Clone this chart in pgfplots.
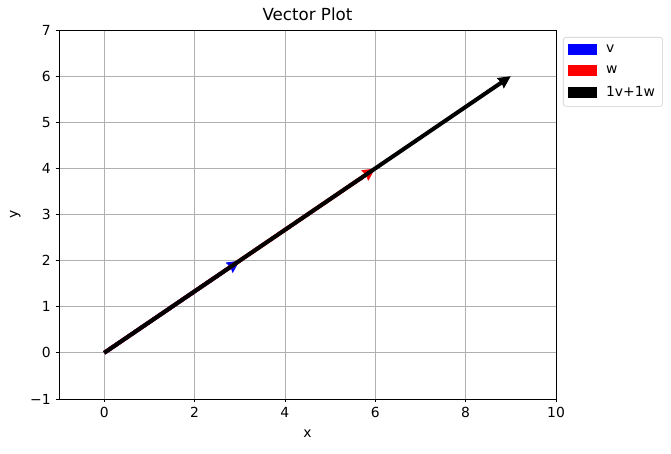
\documentclass[border=0pt]{standalone}
\usepackage{fontspec}
\setmainfont{DejaVu Sans}
\usepackage{pgfplots}
\pgfplotsset{compat=1.18}
\usetikzlibrary{arrows.meta}
\begin{document}
\begin{tikzpicture}
\begin{axis}[name=ax, scale only axis, width=357.84pt, height=265.68pt,
  xmin=-1, xmax=10, ymin=-1, ymax=7,
  xtick={0,2,...,10}, ytick={-1,0,...,7},
  yticklabels={−1,0,1,2,3,4,5,6,7},
  xtick pos=lower, ytick pos=left,
  grid=major, major grid style={color=black!31, line width=0.58pt},
  tick align=outside, major tick length=2.5pt,
  tick style={black, line width=0.58pt},
  axis line style={line width=0.58pt},
  title={Vector Plot},
  title style={font=\fontsize{12}{14}\selectfont, yshift=-3pt},
  xlabel={x}, ylabel={y},
  xlabel style={yshift=-2pt},
  /pgf/number format/assume math mode=true,
  ticklabel style={font=\fontsize{10}{12}\selectfont},
  label style={font=\fontsize{10}{12}\selectfont},
  legend style={at={(1,1)}, anchor=north west, xshift=5pt, yshift=-5pt,
    draw=black!20, rounded corners=2pt, font=\fontsize{10}{12}\selectfont,
    row sep=4pt, inner sep=3.5pt},
  legend cell align=left,
]
\addlegendimage{legend image code/.code={\fill[blue, sharp corners] (0pt,-3.6pt) rectangle (20pt,3.6pt); \path (25pt,0pt);}}
\addlegendentry{v}
\addlegendimage{legend image code/.code={\fill[red, sharp corners] (0pt,-3.6pt) rectangle (20pt,3.6pt); \path (25pt,0pt);}}
\addlegendentry{w}
\addlegendimage{legend image code/.code={\fill[black, sharp corners] (0pt,-3.6pt) rectangle (20pt,3.6pt); \path (25pt,0pt);}}
\addlegendentry{1v+1w}
\addplot[forget plot, blue, line width=2.9pt, -{Stealth[length=9pt,width=8.6pt,inset=0.8pt]},
  quiver={u=3,v=2}] coordinates {(0,0)};
\addplot[forget plot, red, line width=2.9pt, -{Stealth[length=9pt,width=8.6pt,inset=0.8pt]},
  quiver={u=6,v=4}] coordinates {(0,0)};
\addplot[forget plot, black, line width=2.9pt, -{Stealth[length=9pt,width=8.6pt,inset=0.8pt]},
  quiver={u=9,v=6}] coordinates {(0,0)};
\end{axis}
\pgfresetboundingbox
\path (ax.south west) +(-42.48pt,-38.88pt) (ax.north east) +(82.8pt,21.6pt);
\end{tikzpicture}
\end{document}
